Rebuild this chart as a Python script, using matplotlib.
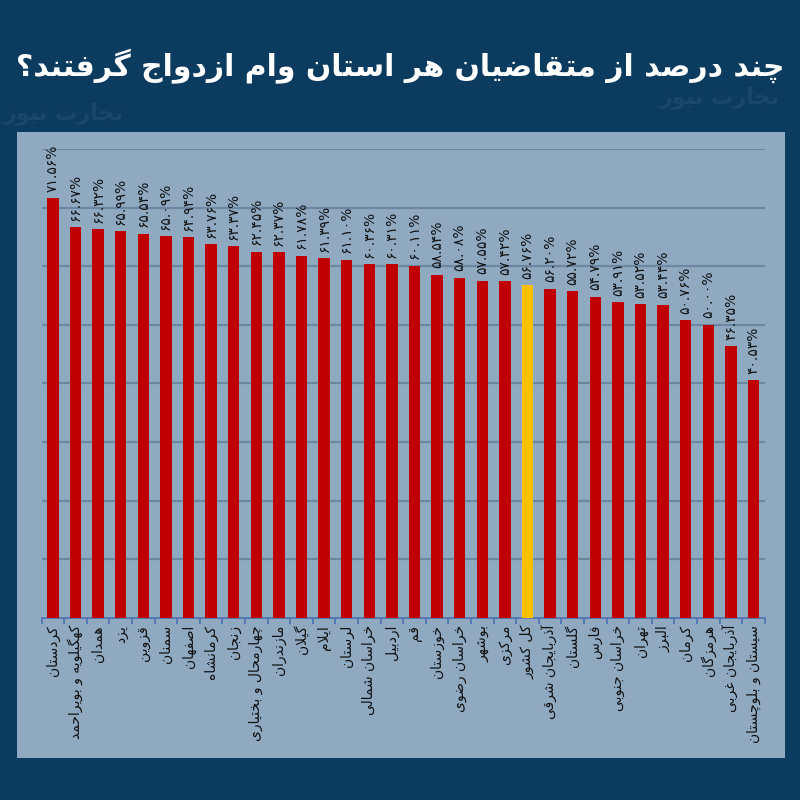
import matplotlib
matplotlib.use('Agg')
import matplotlib.pyplot as plt
from matplotlib.patches import Rectangle
import numpy as np

provinces = ['کردستان', 'کهگیلویه و بویراحمد', 'همدان', 'یزد', 'قزوین', 'سمنان',
             'اصفهان', 'کرمانشاه', 'زنجان', 'چهارمحال و بختیاری', 'مازندران', 'گیلان',
             'ایلام', 'لرستان', 'خراسان شمالی', 'اردبیل', 'قم', 'خوزستان',
             'خراسان رضوی', 'بوشهر', 'مرکزی', 'کل کشور', 'آذربایجان شرقی', 'گلستان',
             'فارس', 'خراسان جنوبی', 'تهران', 'البرز', 'کرمان', 'هرمزگان',
             'آذربایجان غربی', 'سیستان و بلوچستان']
values = [71.56, 66.67, 66.32, 65.99, 65.54, 65.09, 64.94, 63.76, 63.37, 62.45,
          62.37, 61.78, 61.39, 61.10, 60.36, 60.31, 60.11, 58.54, 58.08, 57.55,
          57.42, 56.76, 56.20, 55.72, 54.79, 53.91, 53.52, 53.44, 50.76, 50.00,
          46.35, 40.53]
total_name = 'کل کشور'
title_text = 'چند درصد از متقاضیان هر استان وام ازدواج گرفتند؟'
watermark = 'تجارت نیوز'

# presentation forms: dual joining letters have 4 forms (iso, fin, ini, med),
# right joining letters only 2 (iso, fin)
DUAL = {'ب': 0xFE8F, 'پ': 0xFB56, 'ت': 0xFE95, 'ث': 0xFE99, 'ج': 0xFE9D, 'چ': 0xFB7A,
        'ح': 0xFEA1, 'خ': 0xFEA5, 'س': 0xFEB1, 'ش': 0xFEB5, 'ص': 0xFEB9, 'ض': 0xFEBD,
        'ط': 0xFEC1, 'ظ': 0xFEC5, 'ع': 0xFEC9, 'غ': 0xFECD, 'ف': 0xFED1, 'ق': 0xFED5,
        'ک': 0xFB8E, 'گ': 0xFB92, 'ل': 0xFEDD, 'م': 0xFEE1, 'ن': 0xFEE5, 'ه': 0xFEE9,
        'ی': 0xFBFC}
RIGHT = {'ا': 0xFE8D, 'آ': 0xFE81, 'د': 0xFEA9, 'ذ': 0xFEAB, 'ر': 0xFEAD, 'ز': 0xFEAF,
         'ژ': 0xFB8A, 'و': 0xFEED}
LAMALEF = {'ا': (0xFEFB, 0xFEFC), 'آ': (0xFEF5, 0xFEF6)}


def fa(text):
    # no shaping in matplotlib, so pick the glyph forms by hand and reverse
    chars = list(text.replace('ي', 'ی').replace('ك', 'ک'))
    out = []
    i = 0
    while i < len(chars):
        c = chars[i]
        prev_c = chars[i - 1] if i > 0 else None
        next_c = chars[i + 1] if i + 1 < len(chars) else None
        con_prev = prev_c in DUAL
        if c == 'ل' and next_c in LAMALEF:
            out.append(chr(LAMALEF[next_c][1 if con_prev else 0]))
            i += 2
            continue
        if c in DUAL:
            con_next = next_c in DUAL or next_c in RIGHT
            if con_prev and con_next:
                k = 3
            elif con_prev:
                k = 1
            elif con_next:
                k = 2
            else:
                k = 0
            out.append(chr(DUAL[c] + k))
        elif c in RIGHT:
            out.append(chr(RIGHT[c] + (1 if con_prev else 0)))
        else:
            out.append(c)
        i += 1
    return ''.join(reversed(out))


def fa_num(s):
    return s.translate(str.maketrans('0123456789', '۰۱۲۳۴۵۶۷۸۹'))


def main():
    plt.rcParams['font.family'] = ['DejaVu Sans']

    fig = plt.figure(figsize=(8, 8), dpi=100, facecolor='#0c3b60')

    # light panel behind the chart
    fig.patches.append(Rectangle((0.021, 0.0525), 0.96, 0.7825, transform=fig.transFigure,
                                 facecolor='#8fa9c1', edgecolor='none', zorder=-5))

    fig.text(0.5, 0.918, fa(title_text), color='white', fontsize=21.5, fontweight='bold',
             ha='center', va='center')
    fig.text(0.9, 0.878, fa(watermark), color='white', alpha=0.06, fontsize=16,
             fontweight='bold', ha='center', va='center')
    fig.text(0.08, 0.858, fa(watermark), color='white', alpha=0.06, fontsize=16,
             fontweight='bold', ha='center', va='center')

    ax = fig.add_axes([0.052, 0.2275, 0.904, 0.58625])
    ax.set_facecolor('none')
    ax.set_zorder(2)

    x = np.arange(len(values))
    colors = ['#ffc000' if p == total_name else '#c00000' for p in provinces]
    ax.bar(x, values, width=0.5, color=colors, zorder=3)

    for xi, v in zip(x, values):
        ax.text(xi, v + 1.1, fa_num('%.2f%%' % v), rotation=90, ha='center', va='bottom',
                fontsize=10, color='#111111', zorder=4)

    ax.set_xlim(-0.5, len(values) - 0.5)
    ax.set_ylim(0, 80)
    ax.set_yticks(np.arange(10, 81, 10))
    ax.yaxis.grid(True, color='#6c87a4', linewidth=1.6)
    ax.set_axisbelow(True)
    ax.tick_params(axis='y', left=False, labelleft=False)

    ax.set_xticks(x)
    ax.set_xticklabels([fa(p) for p in provinces], rotation=90, ha='center', va='top',
                       fontsize=10, color='#111111')
    ax.tick_params(axis='x', which='major', length=0, pad=5)
    ax.set_xticks(np.arange(-0.5, len(values), 1.0), minor=True)
    ax.tick_params(axis='x', which='minor', length=4, width=1.2, color='#4a72b0')

    for s in ['top', 'right', 'left']:
        ax.spines[s].set_visible(False)
    ax.spines['bottom'].set_color('#4a72b0')
    ax.spines['bottom'].set_linewidth(1.2)

    fig.savefig('out.png', dpi=100, facecolor=fig.get_facecolor())


if __name__ == "__main__":
    main()
